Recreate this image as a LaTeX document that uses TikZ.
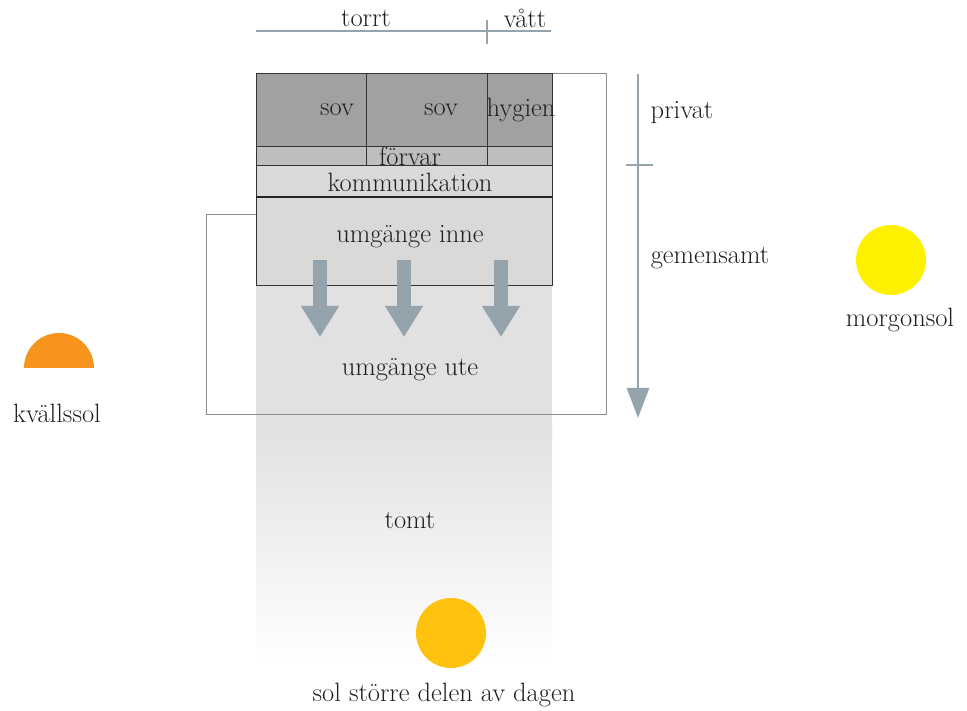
\documentclass[tikz,border=0pt]{standalone}
\usetikzlibrary{positioning,arrows.meta}
\definecolor{arrowgray}{HTML}{95A3AC}
\definecolor{darkroom}{HTML}{A0A1A3}
\definecolor{midroom}{HTML}{BDBEC0}
\definecolor{lightroom}{HTML}{D9D9D8}
\definecolor{yardgray}{HTML}{E1E1E2}
\definecolor{framegray}{HTML}{8C8C8C}
\definecolor{morning}{HTML}{FFF200}
\definecolor{evening}{HTML}{F7941E}
\definecolor{daysun}{HTML}{FFC20E}
\tikzset{
  lbl/.style={font=\fontsize{26.5}{30}\selectfont, text=black!88, inner sep=0pt},
  room/.style={draw=black!80, line width=1},
  scaleline/.style={arrowgray, line width=2.5},
  bigarrow/.style={arrowgray, line width=14, -{Triangle[length=31pt,width=36pt]}}
}
\begin{document}
\begin{tikzpicture}[x=1pt,y=-1pt]
\useasboundingbox (0,0) rectangle (967,711);
% tomt
\fill[yardgray] (256,286) rectangle (552,420);
\shade[top color=yardgray, bottom color=white] (256,420) rectangle (552,665);
% ram
\draw[framegray, line width=1] (552,74) -- (606,74) -- (606,414) -- (206,414) -- (206,215) -- (256,215);
% rum
\filldraw[room, fill=darkroom] (256,74) rectangle (552,147);
\filldraw[room, fill=midroom] (256,147) rectangle (552,166);
\filldraw[room, fill=lightroom] (256,166) rectangle (552,197);
\filldraw[room, fill=lightroom] (256,197) rectangle (552,286);
\draw[black!85, line width=2.5] (256,197) -- (552,197);
\foreach \x in {366,487}
	\draw[room] (\x,74) -- (\x,166);

\node[lbl] (sov1) at (337,110) {sov};
\node[lbl] (sov2) at (441,110) {sov};
\node[lbl] (hygien) at (521,110) {hygien};
\node[lbl] (forvar) at (410,156) {förvar};
\node[lbl] (komm) at (410,182) {kommunikation};
\node[lbl] (inne) at (410,237) {umgänge inne};
\node[lbl] (ute) at (410,370) {umgänge ute};
\node[lbl] (tomt) at (410,520) {tomt};

% pilar ut
\foreach \x [count=\i] in {320,404,501}{
	\coordinate (s\i) at (\x,260);
	\coordinate (e\i) at (\x,337);
	\draw[bigarrow] (s\i) -- (e\i);
}

% torrt / vatt
\coordinate (dimL) at (256,31);
\coordinate (dimR) at (551,31);
\draw[scaleline] (dimL) -- (dimR);
\draw[scaleline] (487,20) -- (487,44);
\node[lbl] (torrt) at (366,18) {torrt};
\node[lbl] (vatt) at (525,18) {vått};

% privat / gemensamt
\coordinate (pTop) at (638,74);
\coordinate (pEnd) at (638,418);
\draw[scaleline, -{Triangle[length=30pt,width=22pt]}] (pTop) -- (pEnd);
\draw[scaleline] (626,165) -- (653,165);
\node[lbl] (privat) at (682,113) {privat};
\node[lbl] (gemensamt) at (710,258) {gemensamt};

% sol
\fill[morning] (891,260) circle[radius=35];
\node[lbl] (morgon) at (900,320) {morgonsol};
\fill[evening] (24,368) arc[start angle=180, end angle=360, radius=35] -- cycle;
\node[lbl] (kvall) at (57,413) {kvällssol};
\fill[daysun] (451,633) circle[radius=35];
\node[lbl] (dag) at (444,695) {sol större delen av dagen};
\end{tikzpicture}
\end{document}
